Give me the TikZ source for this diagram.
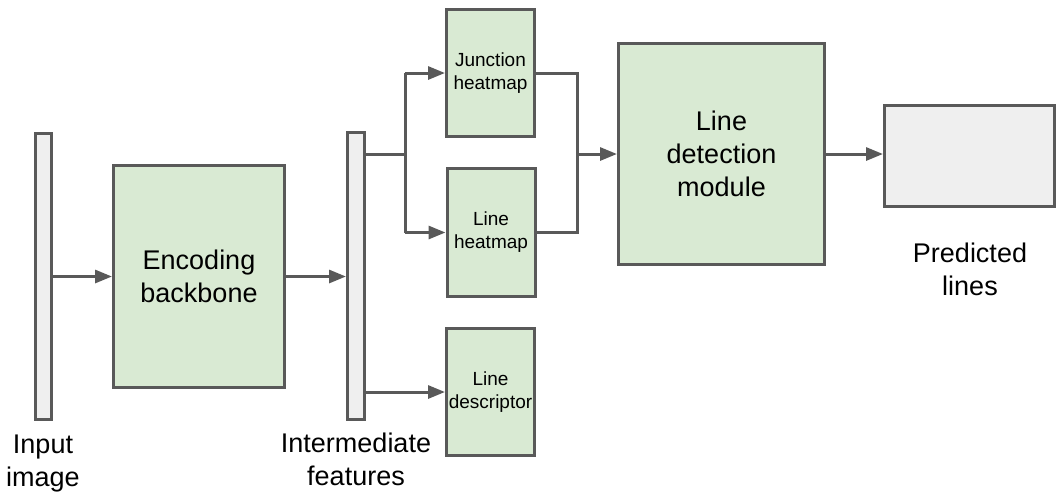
\documentclass[tikz,border=0pt]{standalone}
\usepackage{fontspec}
\setmainfont{Liberation Sans}
\usetikzlibrary{arrows.meta}
\definecolor{boxgreen}{HTML}{D9EAD3}
\definecolor{boxgray}{HTML}{EFEFEF}
\definecolor{edge}{HTML}{595959}
\begin{document}
\begin{tikzpicture}[x=1pt,y=-1pt,
  blk/.style={draw=edge, line width=3pt, inner sep=0pt, align=center},
  grnbox/.style={blk, fill=boxgreen},
  graybox/.style={blk, fill=boxgray},
  bigtxt/.style={font=\fontsize{27}{33}\selectfont},
  smalltxt/.style={font=\fontsize{19}{23}\selectfont},
  lbl/.style={inner sep=0pt, align=center, font=\fontsize{27}{33}\selectfont},
  conn/.style={draw=edge, line width=3pt},
  arr/.style={conn, -{Triangle[length=17pt,width=13pt]}}
]
\useasboundingbox (0,0) rectangle (1057,491);
% nodes
\node[graybox, minimum width=16pt, minimum height=286pt] (inbar) at (43.5,276.5) {};
\node[grnbox, bigtxt, minimum width=171pt, minimum height=222pt] (enc) at (199,276.5) {Encoding\\backbone};
\node[graybox, minimum width=17pt, minimum height=287pt] (midbar) at (356,276) {};
\node[grnbox, smalltxt, minimum width=88pt, minimum height=127pt] (jun) at (490.5,73) {Junction\\heatmap};
\node[grnbox, smalltxt, minimum width=88pt, minimum height=128pt] (lh) at (491,232.5) {Line\\heatmap};
\node[grnbox, smalltxt, minimum width=88pt, minimum height=127pt] (desc) at (490.5,392) {Line\\descriptor};
\node[grnbox, bigtxt, minimum width=206pt, minimum height=221pt] (ld) at (721.5,154) {Line\\detection\\module};
\node[graybox, minimum width=170pt, minimum height=101pt] (pred) at (969.5,156) {};
% labels
\node[lbl] (inlbl) at (43,464) {Input\\image};
\node[lbl] (midlbl) at (356,459) {Intermediate\\features};
\node[lbl] (predlbl) at (970,269) {Predicted\\lines};
% connectors
\draw[arr] (inbar.east |- enc.west) -- (enc.west);
\draw[arr] (enc.east) -- (enc.east -| midbar.west);
\coordinate (split) at (405,154);
\coordinate (join) at (577,154);
\draw[conn] (split -| midbar.east) -- (split);
\draw[conn] (split |- jun.west) -- (split |- lh.west);
\draw[arr] (split |- jun.west) -- (jun.west);
\draw[arr] (split |- lh.west) -- (lh.west);
\draw[arr] (desc.west -| midbar.east) -- (desc.west);
\draw[conn] (jun.east) -- (join |- jun.east) -- (join |- lh.east) -- (lh.east);
\draw[arr] (join) -- (join -| ld.west);
\draw[arr] (ld.east) -- (ld.east -| pred.west);
\end{tikzpicture}
\end{document}
